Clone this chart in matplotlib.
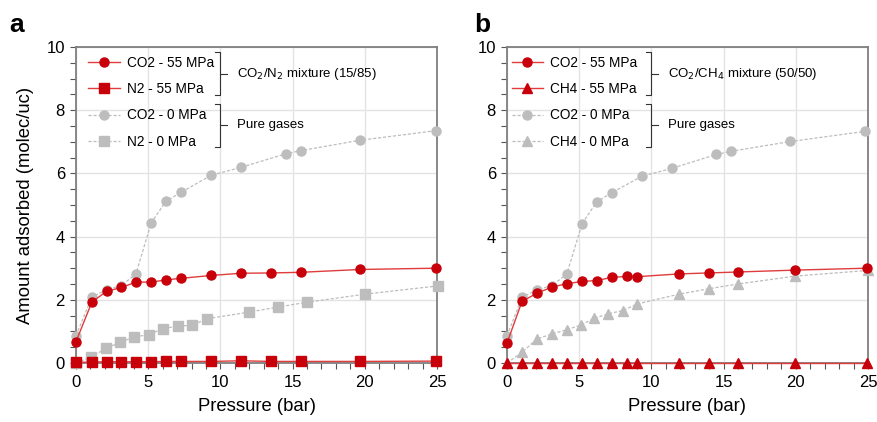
import matplotlib.pyplot as plt
from matplotlib.ticker import MultipleLocator

plt.rcParams['font.family'] = ['Liberation Sans', 'DejaVu Sans']

# Panel a : CO2/N2 mixture (15/85)
a_co2_mix_x = [0, 1.1, 2.12, 3.14, 4.15, 5.2, 6.23, 7.27, 9.35, 11.42, 13.5, 15.56, 19.67, 24.9]
a_co2_mix_y = [0.68, 1.93, 2.27, 2.39, 2.56, 2.56, 2.63, 2.68, 2.77, 2.84, 2.85, 2.87, 2.96, 3.0]
a_n2_mix_x = [0, 1.1, 2.12, 3.14, 4.15, 5.2, 6.23, 7.27, 9.35, 11.42, 13.5, 15.56, 19.67, 24.9]
a_n2_mix_y = [0.02, 0.03, 0.04, 0.04, 0.04, 0.04, 0.05, 0.05, 0.05, 0.07, 0.05, 0.05, 0.05, 0.06]
a_co2_pure_x = [0, 1.1, 2.12, 3.14, 4.15, 5.2, 6.23, 7.27, 9.35, 11.42, 14.52, 15.56, 19.67, 24.9]
a_co2_pure_y = [0.87, 2.09, 2.32, 2.45, 2.82, 4.43, 5.12, 5.4, 5.94, 6.19, 6.62, 6.72, 7.05, 7.35]
a_n2_pure_x = [0, 1.07, 2.06, 3.07, 4.0, 5.03, 6.05, 7.04, 8.04, 9.05, 11.98, 13.96, 15.97, 20.03, 25.07]
a_n2_pure_y = [0.0, 0.19, 0.46, 0.66, 0.82, 0.9, 1.09, 1.17, 1.19, 1.4, 1.61, 1.77, 1.92, 2.18, 2.44]

# Panel b : CO2/CH4 mixture (50/50)
b_co2_mix_x = [0, 1.04, 2.08, 3.1, 4.14, 5.2, 6.22, 7.26, 8.3, 8.97, 11.93, 13.97, 15.98, 19.97, 24.92]
b_co2_mix_y = [0.63, 1.95, 2.21, 2.4, 2.51, 2.58, 2.61, 2.71, 2.74, 2.73, 2.82, 2.85, 2.88, 2.94, 3.0]
b_ch4_mix_x = [0, 1.04, 2.08, 3.1, 4.14, 5.2, 6.22, 7.26, 8.3, 8.97, 11.93, 13.97, 15.98, 19.97, 24.92]
b_ch4_mix_y = [0.01, 0.01, 0.01, 0.01, 0.01, 0.01, 0.01, 0.01, 0.01, 0.01, 0.01, 0.01, 0.01, 0.01, 0.01]
b_co2_pure_x = [0, 1.05, 2.1, 3.12, 4.14, 5.2, 6.22, 7.26, 9.34, 11.42, 14.5, 15.51, 19.63, 24.8]
b_co2_pure_y = [0.87, 2.08, 2.32, 2.45, 2.81, 4.41, 5.1, 5.39, 5.91, 6.16, 6.6, 6.7, 7.01, 7.33]
b_ch4_pure_x = [0, 1.04, 2.08, 3.1, 4.13, 5.1, 6.03, 7.03, 8.02, 9.03, 11.93, 13.97, 15.98, 19.97, 25.0]
b_ch4_pure_y = [0.0, 0.34, 0.76, 0.92, 1.05, 1.2, 1.41, 1.56, 1.66, 1.87, 2.18, 2.35, 2.5, 2.75, 2.93]

RED = '#c8000a'
RED_LINE = '#e03c3c'
GRAY = '#bdbdbd'
FRAME = '#7f7f7f'

fig = plt.figure(figsize=(8.77, 4.22), dpi=100)
ax_a = fig.add_axes([0.0867, 0.1398, 0.4116, 0.7488])
ax_b = fig.add_axes([0.5781, 0.1398, 0.4116, 0.7488])


def style_axes(ax):
    ax.set_xlim(0, 25)
    ax.set_ylim(0, 10)
    ax.xaxis.set_major_locator(MultipleLocator(5))
    ax.xaxis.set_minor_locator(MultipleLocator(1))
    ax.yaxis.set_major_locator(MultipleLocator(2))
    ax.yaxis.set_minor_locator(MultipleLocator(0.5))
    ax.grid(True, which='major', color='#e3e3e3', linewidth=1.0, zorder=0)
    ax.set_axisbelow(True)
    for s in ax.spines.values():
        s.set_color(FRAME)
        s.set_linewidth(1.3)
    ax.tick_params(which='both', direction='out', color='#555555', labelsize=12,
                   length=4, width=0.8)
    ax.tick_params(axis='x', which='both', pad=4.5)
    ax.tick_params(axis='y', which='both', pad=4)
    ax.set_xlabel('Pressure (bar)', fontsize=13.3, labelpad=6)


def plot_mix(ax, x, y, marker, label):
    ax.plot(x, y, color=RED_LINE, linewidth=1.0, marker=marker, markersize=6.5,
            markerfacecolor=RED, markeredgecolor=RED, label=label, clip_on=False, zorder=4)


def plot_pure(ax, x, y, marker, label):
    ax.plot(x, y, color=GRAY, linewidth=0.9, linestyle=(0, (2.5, 1.5)), marker=marker,
            markersize=6.5, markerfacecolor=GRAY, markeredgecolor=GRAY, label=label,
            clip_on=False, zorder=3)


def bracket(ax, y0, y1, text):
    xb = 0.399
    ax.plot([xb - 0.014, xb, xb, xb - 0.014], [y0, y0, y1, y1], color='#333333',
            linewidth=0.8, transform=ax.transAxes, clip_on=False)
    ym = (y0 + y1) / 2
    ax.plot([xb, xb + 0.02], [ym, ym], color='#333333', linewidth=0.8,
            transform=ax.transAxes, clip_on=False)
    ax.text(0.446, ym, text, transform=ax.transAxes, fontsize=9.5, va='center', ha='left')


order = [3, 2, 1, 0]

# Panel a
plot_pure(ax_a, a_n2_pure_x, a_n2_pure_y, 's', 'N2 - 0 MPa')
plot_pure(ax_a, a_co2_pure_x, a_co2_pure_y, 'o', 'CO2 - 0 MPa')
plot_mix(ax_a, a_n2_mix_x, a_n2_mix_y, 's', 'N2 - 55 MPa')
plot_mix(ax_a, a_co2_mix_x, a_co2_mix_y, 'o', 'CO2 - 55 MPa')
style_axes(ax_a)
ax_a.set_ylabel('Amount adsorbed (molec/uc)', fontsize=13.3, labelpad=9)
h, l = ax_a.get_legend_handles_labels()
ax_a.legend([h[i] for i in order], [l[i] for i in order], loc='upper left',
            bbox_to_anchor=(0.01, 1.0), frameon=False, fontsize=9.8, handlelength=2.3,
            handletextpad=0.55, labelspacing=0.9, borderaxespad=0.25)
bracket(ax_a, 0.984, 0.848, 'CO$_2$/N$_2$ mixture (15/85)')
bracket(ax_a, 0.820, 0.684, 'Pure gases')
fig.text(0.011, 0.924, 'a', fontsize=19, fontweight='bold')

# Panel b
plot_pure(ax_b, b_ch4_pure_x, b_ch4_pure_y, '^', 'CH4 - 0 MPa')
plot_pure(ax_b, b_co2_pure_x, b_co2_pure_y, 'o', 'CO2 - 0 MPa')
plot_mix(ax_b, b_ch4_mix_x, b_ch4_mix_y, '^', 'CH4 - 55 MPa')
plot_mix(ax_b, b_co2_mix_x, b_co2_mix_y, 'o', 'CO2 - 55 MPa')
style_axes(ax_b)
h, l = ax_b.get_legend_handles_labels()
ax_b.legend([h[i] for i in order], [l[i] for i in order], loc='upper left',
            bbox_to_anchor=(-0.012, 1.0), frameon=False, fontsize=9.8, handlelength=2.3,
            handletextpad=0.55, labelspacing=0.9, borderaxespad=0.25)
bracket(ax_b, 0.984, 0.848, 'CO$_2$/CH$_4$ mixture (50/50)')
bracket(ax_b, 0.820, 0.684, 'Pure gases')
fig.text(0.541, 0.924, 'b', fontsize=19, fontweight='bold')

fig.savefig('out.png', dpi=100)
